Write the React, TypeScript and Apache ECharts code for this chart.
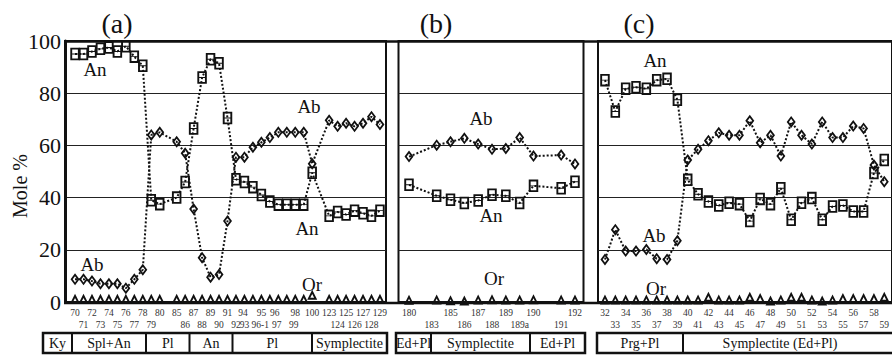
import React, { useEffect, useRef } from 'react';
import * as echarts from 'echarts';

// ---------- data ----------
const catsA = ['70','71','72','73','74','75','76','77','78','79','80','','85','86','87','88','89','90','91','92','93','94','95','96','96-1','97','98','99','100','','123','124','125','126','127','128','129'];
const lowerA = ['71','73','75','77','79','86','88','90','92','93','96-1','97','99','124','126','128'];
const anA = [95,95,96,97,97.5,96,98,94,90.5,39,37.5,null,40,46,66.5,86,93,91.5,70.5,47,46,44,41,38.5,37.3,37.3,37.3,37.3,49.5,null,33,34.5,33.5,35,34,33,35];
const abA = [8.7,8.7,8,7,7,7,5.3,8.7,12.4,64,65,null,61.4,57,35.6,17,9.5,10.5,31,55.5,55.5,59.3,61.2,63,65,65,65,65,53,null,69.6,67.3,68.5,67.3,68.5,71,68];
const orA = [1.2,1.2,1.2,1.2,1.2,1.2,1.2,1.2,1.2,1.2,1.2,null,1.2,1.2,1.2,1.2,1.2,1.2,1.2,1.2,1.2,1.2,1.2,1.2,1.2,1.2,1.2,1.2,2.8,null,1.2,1.2,1.2,1.2,1.2,1.2,1.2];

const catsB = ['180','','183','185','186','187','188','189','189a','190','','191','192'];
const lowerB = ['183','186','188','189a','191'];
const anB = [44.9,null,40.7,39.2,37.9,38.9,41.1,40.7,37.9,44.5,null,43.6,46.1];
const abB = [55.7,null,60.1,61.4,62.7,60.5,58.5,58.8,63,55.9,null,56.3,52.9];
const orB = [0.9,null,1,0.7,0.6,1,1.1,1,1,1.1,null,1,1];

const catsC = ['32','33','34','35','36','37','38','39','40','41','42','43','44','45','46','47','48','49','50','51','52','53','54','55','56','57','58','59'];
const lowerC = ['33','35','37','39','41','43','45','47','49','51','53','55','57','59'];
const anC = [85,73,81.7,82.3,81.7,85,85.5,77.5,46.8,41.3,38.5,37,38,37.5,31,39.5,37.5,43.6,31.5,38,39.8,31.5,36.6,37,34.7,34.7,49.4,54.4];
const abC = [16.3,27.7,19.5,19.5,20.1,16.6,16.3,23.5,54.4,58.5,61.8,64.8,63.9,63.9,69.4,61,63.9,55.9,69,63.9,60.5,69,63,63,67.4,66.5,52.5,46.1];
const orC = [1,1,1,1,1,1,1,1,1,1,2,1,1,1,2,1.5,0.6,1,2,2,1,0.6,1,1.5,1.5,1.5,1.5,2];

const yTicks = [0, 20, 40, 60, 80, 100];

const zonesA = ['Ky', 'Spl+An', 'Pl', 'An', 'Pl', 'Symplectite'];
const zonesB = ['Ed+Pl', 'Symplectite', 'Ed+Pl'];
const zonesC = ['Prg+Pl', 'Symplectite (Ed+Pl)'];

// ---------- layout (pixels) ----------
const FONT = '"Liberation Serif", "DejaVu Serif", serif';
const TOP = 41;
const H = 261;
const frames = [
  { left: 65, width: 321 },
  { left: 398.5, width: 185 },
  { left: 598, width: 300 },
];
const dataGrids = [
  { left: 70.8, width: 313.4 },
  { left: 402.1, width: 179.8 },
  { left: 599.8, width: 291.2 },
];
const zoneEdges = [
  [43, 72, 146, 189.5, 232.5, 312, 387],
  [396, 431, 530, 585],
  [597, 683, 895],
];
// horizontal nudges of some tick labels, as placed in the reference figure
const labelShift: Record<string, number>[] = [
  { '94': -10, '96': 5, '96-1': -18, '97': -10, '99': -10 },
  { '183': -5 },
  {},
];

const SQ = 'path://M0,0H10V14H0Z M2,2V6.5H8V2Z M2,7.5V12H8V7.5Z';
const DI = 'path://M5,0L10,7L5,14L0,7Z M5,3.4L2.5,7L5,10.6L7.5,7Z';
const TR = 'path://M5,0L10,10H0Z M5,4.2L3.1,8H6.9Z';

export default function App() {
  const ref = useRef<HTMLDivElement>(null);
  useEffect(() => {
    if (!ref.current) return;
    const chart = echarts.init(ref.current, null, { renderer: 'svg' });
    const cats = [catsA, catsB, catsC];
    const lowers = [lowerA, lowerB, lowerC];
    const ans = [anA, anB, anC];
    const abs = [abA, abB, abC];
    const ors = [orA, orB, orC];

    const grid: any[] = [];
    const xAxis: any[] = [];
    const yAxis: any[] = [];
    frames.forEach((f, i) => {
      grid.push({ left: f.left, top: TOP, width: f.width, height: H, show: true, borderColor: '#111', borderWidth: 2, backgroundColor: 'transparent' });
      xAxis.push({ gridIndex: i, type: 'value', min: 0, max: 1, show: false });
      yAxis.push({
        gridIndex: i, type: 'value', min: 0, max: 100, interval: 20,
        axisLine: { show: i === 0, lineStyle: { color: '#111', width: 3 } },
        axisTick: { show: false },
        axisLabel: {
          show: i === 0, fontSize: 22, color: '#111', fontFamily: FONT, margin: 4,
          formatter: (v: number) => (yTicks.includes(v) ? String(v) : ''),
        },
        splitLine: { show: true, lineStyle: { color: '#222', width: 1 } },
      });
    });
    const baseLbl = { fontSize: 9.5, lineHeight: 12, color: '#333', fontFamily: FONT };
    dataGrids.forEach((g, i) => {
      grid.push({ left: g.left, top: TOP, width: g.width, height: H, show: false });
      const low = lowers[i];
      const shifts = labelShift[i];
      const rich: any = {};
      const keyOf: Record<string, string> = {};
      Object.keys(shifts).forEach((k, j) => {
        const d = shifts[k];
        const key = 's' + j;
        keyOf[k] = key;
        rich[key] = { ...baseLbl, padding: d < 0 ? [0, -2 * d, 0, 0] : [0, 0, 0, 2 * d] };
      });
      xAxis.push({
        gridIndex: 3 + i, type: 'category', data: cats[i], boundaryGap: true,
        axisLine: { show: false }, axisTick: { show: false },
        axisLabel: {
          interval: 0, margin: 5, ...baseLbl, rich,
          formatter: (v: string) => {
            const t = keyOf[v] ? `{${keyOf[v]}|${v}}` : v;
            return low.includes(v) ? '\n' + t : t;
          },
        },
      });
      yAxis.push({ gridIndex: 3 + i, type: 'value', min: 0, max: 100, show: false });
    });

    const series: any[] = [];
    for (let i = 0; i < 3; i++) {
      const ax = 3 + i;
      series.push({
        type: 'line', xAxisIndex: ax, yAxisIndex: ax, data: ans[i], connectNulls: true,
        symbol: SQ, symbolSize: [9.5, 12.5], symbolKeepAspect: false, showAllSymbol: true,
        lineStyle: { color: '#111', width: 2, type: 'dotted' },
        itemStyle: { color: '#111', borderWidth: 0 }, z: 3,
      });
      series.push({
        type: 'line', xAxisIndex: ax, yAxisIndex: ax, data: abs[i], connectNulls: true,
        symbol: DI, symbolSize: [9, 12], symbolKeepAspect: false, showAllSymbol: true,
        lineStyle: { color: '#111', width: 2, type: 'dotted' },
        itemStyle: { color: '#111', borderWidth: 0 }, z: 3,
      });
      series.push({
        type: 'scatter', xAxisIndex: ax, yAxisIndex: ax, data: ors[i],
        symbol: TR, symbolSize: [10, 10], symbolKeepAspect: false,
        itemStyle: { color: '#111', borderWidth: 0, opacity: 1 }, z: 12,
      });
    }

    const txt = (x: number, y: number, s: string, size: number, extra: any = {}) => ({
      type: 'text', x, y, z: 10,
      style: { text: s, fontSize: size, fontFamily: FONT, fill: '#111', align: 'center', verticalAlign: 'middle', ...extra },
    });

    const graphic: any[] = [
      { type: 'line', shape: { x1: 64, y1: 41.5, x2: 892, y2: 41.5 }, style: { stroke: '#111', lineWidth: 2.5 }, z: 1 },
      { type: 'line', shape: { x1: 64, y1: 303, x2: 892, y2: 303 }, style: { stroke: '#111', lineWidth: 2.5 }, z: 1 },
      { ...txt(20, 186, 'Mole %', 20), rotation: Math.PI / 2 },
      txt(117, 23, '(a)', 28), txt(436, 23, '(b)', 28), txt(639, 23, '(c)', 28),
      txt(95, 69, 'An', 19), txt(309, 106, 'Ab', 19), txt(307, 228, 'An', 19), txt(92, 264, 'Ab', 19), txt(312, 284, 'Or', 19),
      txt(481, 118, 'Ab', 19), txt(491, 215, 'An', 19), txt(494, 278, 'Or', 19),
      txt(655, 60, 'An', 19), txt(654, 235, 'Ab', 19), txt(656, 288, 'Or', 19),
    ];
    const zones = [zonesA, zonesB, zonesC];
    zoneEdges.forEach((edges, p) => {
      graphic.push({ type: 'rect', shape: { x: edges[0], y: 333, width: edges[edges.length - 1] - edges[0], height: 20 }, style: { fill: 'none', stroke: '#111', lineWidth: 2.5 }, z: 10 });
      for (let k = 1; k < edges.length - 1; k++) {
        graphic.push({ type: 'line', shape: { x1: edges[k], y1: 333, x2: edges[k], y2: 353 }, style: { stroke: '#111', lineWidth: 2 }, z: 10 });
      }
      zones[p].forEach((z, k) => {
        const right = p === 2 && k === zones[p].length - 1 ? 877 : edges[k + 1];
        graphic.push(txt((edges[k] + right) / 2, 343, z, 14));
      });
    });

    chart.setOption({
      animation: false,
      backgroundColor: '#fff',
      grid, xAxis, yAxis, series, graphic,
    });
    return () => chart.dispose();
  }, []);
  return <div ref={ref} style={{ position: 'fixed', left: 0, top: 0, width: 892, height: 356 }} />;
}
